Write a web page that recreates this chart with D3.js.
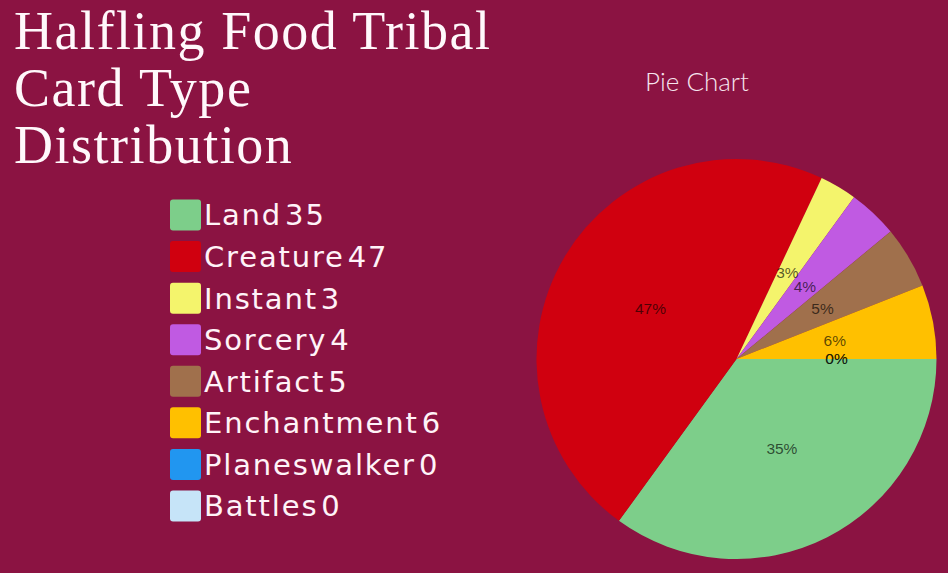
<!DOCTYPE html>
<html><head><meta charset="utf-8">
<script src="https://cdn.jsdelivr.net/npm/d3@7"></script>
<style>html,body{margin:0;padding:0;background:#8b1342;overflow:hidden}</style>
</head><body>
<svg id="c" width="948" height="573"></svg>
<script>
const categories = ["Land","Creature","Instant","Sorcery","Artifact","Enchantment","Planeswalker","Battles"];
const values = [35,47,3,4,5,6,0,0];
const colors = ["#7dce8a","#d0000f","#f4f46c","#c05ae2","#a0704c","#ffc000","#2196f0","#c6e4f8"];
const titleLines = ["Halfling Food Tribal","Card Type","Distribution"];
const chartTitle = "Pie Chart";

const svg = d3.select("#c");
svg.append("rect").attr("width",948).attr("height",573).attr("fill","#8b1342");

// main title
const tg = svg.append("g");
const tLines = tg.selectAll("text").data(titleLines).join("text")
  .attr("x",14).attr("y",(d,i)=>49+i*57)
  .attr("font-family","'Liberation Serif','DejaVu Serif',serif")
  .attr("font-size",54).attr("fill","#fff8fb").text(d=>d);
const first = tLines.node();
const w = first.getComputedTextLength();
const ls = (476 - w)/(titleLines[0].length-1);
tLines.attr("letter-spacing", ls);

// legend
const rowY = d3.scalePoint().domain(categories).range([215,506]);
const lg = svg.append("g");
const rows = lg.selectAll("g").data(categories).join("g")
  .attr("transform",d=>`translate(0,${rowY(d)})`);
rows.append("rect").attr("x",170).attr("y",-15.5).attr("width",31).attr("height",31)
  .attr("rx",3).attr("fill",(d,i)=>colors[i]);
const lt = rows.append("text").attr("x",204).attr("y",0).attr("dy","0.36em")
  .attr("font-family","'DejaVu Sans',sans-serif").attr("font-size",29).attr("fill","#fff3f8");
lt.append("tspan").text(d=>d);
lt.append("tspan").attr("dx",3).text((d,i)=>values[i]);
const en = lt.filter(d=>d==="Enchantment").node();
const ew = en.getComputedTextLength();
lt.attr("letter-spacing", (235 - ew)/12);

// pie chart title
svg.append("text").attr("x",697).attr("y",91).attr("text-anchor","middle")
  .attr("font-family","Lato,sans-serif").attr("font-weight",300).attr("font-size",26)
  .attr("fill","#f6e4ee").text(chartTitle);

// pie
const cx=736.5, cy=359, r=200;
const total = d3.sum(values);
const pie = d3.pie().value(d=>d).sort(null)
  .startAngle(Math.PI/2).endAngle(Math.PI/2+2*Math.PI);
const arcs = pie(values);
const arc = d3.arc().innerRadius(0).outerRadius(r);
const labelArc = d3.arc().innerRadius(r/2).outerRadius(r/2);
const pg = svg.append("g").attr("transform",`translate(${cx},${cy})`);
pg.selectAll("path").data(arcs).join("path")
  .attr("d",arc).attr("fill",(d,i)=>colors[i]);
pg.selectAll("text").data(arcs).join("text")
  .attr("transform",d=>`translate(${labelArc.centroid(d)})`)
  .attr("text-anchor","middle").attr("dy","0.35em")
  .attr("font-family","'Liberation Sans',Arial,sans-serif").attr("font-size",15.5)
  .attr("fill","#000").attr("fill-opacity",0.65)
  .text(d=>Math.round(d.data/total*100)+"%");
</script>
</body></html>
